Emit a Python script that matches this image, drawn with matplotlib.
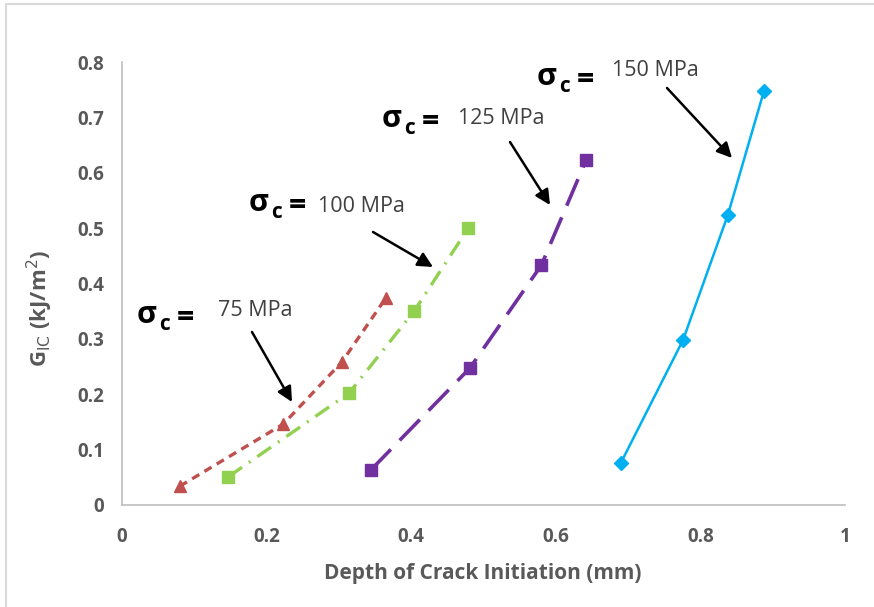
import numpy as np
import matplotlib.pyplot as plt
from matplotlib.patches import Rectangle

# data
x75 = [0.080, 0.223, 0.304, 0.365]
y75 = [0.034, 0.146, 0.258, 0.374]
x100 = [0.147, 0.314, 0.404, 0.479]
y100 = [0.051, 0.202, 0.350, 0.500]
x125 = [0.344, 0.481, 0.580, 0.642]
y125 = [0.063, 0.247, 0.433, 0.623]
x150 = [0.690, 0.776, 0.838, 0.888]
y150 = [0.076, 0.298, 0.524, 0.748]

xticks = [0, 0.2, 0.4, 0.6, 0.8, 1]
yticks = [0, 0.1, 0.2, 0.3, 0.4, 0.5, 0.6, 0.7, 0.8]
stress_labels = ['75 MPa', '100 MPa', '125 MPa', '150 MPa']

W, H = 874, 607
fig = plt.figure(figsize=(W/100, H/100), dpi=100)
ax = fig.add_axes([122/W, 1-505/H, (845-122)/W, (505-62)/H])

# chart area border (only left/top visible)
fig.patches.append(Rectangle((6/W, -0.1), 1.2, 1-4/H+0.1, transform=fig.transFigure,
                             fill=False, edgecolor='#d9d9d9', linewidth=1.5))

ax.plot(x75, y75, color='#c0504d', lw=2.4, ls=(0, (2.5, 1.8)), marker='^', ms=8.5)
ax.plot(x100, y100, color='#92d050', lw=2.4, ls=(0, (5, 2.5, 0.6, 2.5)), marker='s', ms=9)
ax.plot(x125, y125, color='#7030a0', lw=2.6, ls=(0, (8, 3.5)), marker='s', ms=9)
ax.plot(x150, y150, color='#00b0f0', lw=1.8, marker='D', ms=7)

ax.set_xlim(0, 1)
ax.set_ylim(0, 0.8)
ax.set_xticks(xticks)
ax.set_xticklabels(['0', '0.2', '0.4', '0.6', '0.8', '1'])
ax.set_yticks(yticks)
ax.set_yticklabels(['0', '0.1', '0.2', '0.3', '0.4', '0.5', '0.6', '0.7', '0.8'])
for s in ['top', 'right']:
    ax.spines[s].set_visible(False)
for s in ['left', 'bottom']:
    ax.spines[s].set_color('#bfbfbf')
    ax.spines[s].set_linewidth(1.2)
ax.tick_params(length=0, labelsize=13.5, labelcolor='#595959')
ax.tick_params(axis='x', pad=16)
ax.tick_params(axis='y', pad=13)
for lab in ax.get_xticklabels() + ax.get_yticklabels():
    lab.set_fontweight('bold')
    lab.set_family('Open Sans')

fig.text(483/W, 1-573/H, 'Depth of Crack Initiation (mm)', ha='center', va='center',
         fontsize=15, fontweight='bold', color='#595959', family='Open Sans')
fig.text(40/W, 1-308/H, r'G$_{\mathrm{IC}}$ (kJ/m$^{2}$)', ha='center', va='center',
         rotation=90, fontsize=16, fontweight='bold', color='#595959', family='Open Sans')

# annotations: sigma label position, MPa text position, arrow tail, arrow head (pixels)
notes = [
    ((137, 315), (218, 311), (252, 332), (292, 402)),
    ((249, 203), (318, 206), (373, 232), (433, 267)),
    ((382, 119), (458, 118), (510, 142), (550, 205)),
    ((537, 77), (612, 70), (667, 88), (732, 158)),
]

def px(p):
    return ((p[0]-122)/723, (505-p[1])/553.75)

for (sig, mpa, tail, head), lab in zip(notes, stress_labels):
    sx, sy = px(sig)
    ax.text(sx, sy, 'σ', fontsize=22, fontweight='bold', family='Open Sans',
            ha='left', va='center', color='black')
    ax.annotate('c', xy=(sx, sy), xytext=(22, -10), textcoords='offset pixels',
                fontsize=15, fontweight='bold', family='Open Sans', ha='left', va='center')
    ax.annotate('=', xy=(sx, sy), xytext=(40, -3), textcoords='offset pixels',
                fontsize=22, fontweight='bold', family='Open Sans', ha='left', va='center')
    mx, my = px(mpa)
    ax.text(mx, my, lab, fontsize=15.5, family='Open Sans', ha='left', va='center',
            color='#404040')
    ax.annotate('', xy=px(head), xytext=px(tail),
                arrowprops=dict(arrowstyle='-|>,head_length=0.9,head_width=0.45',
                                color='black', lw=1.8, shrinkA=0, shrinkB=0))

fig.savefig('out.png', dpi=100)
